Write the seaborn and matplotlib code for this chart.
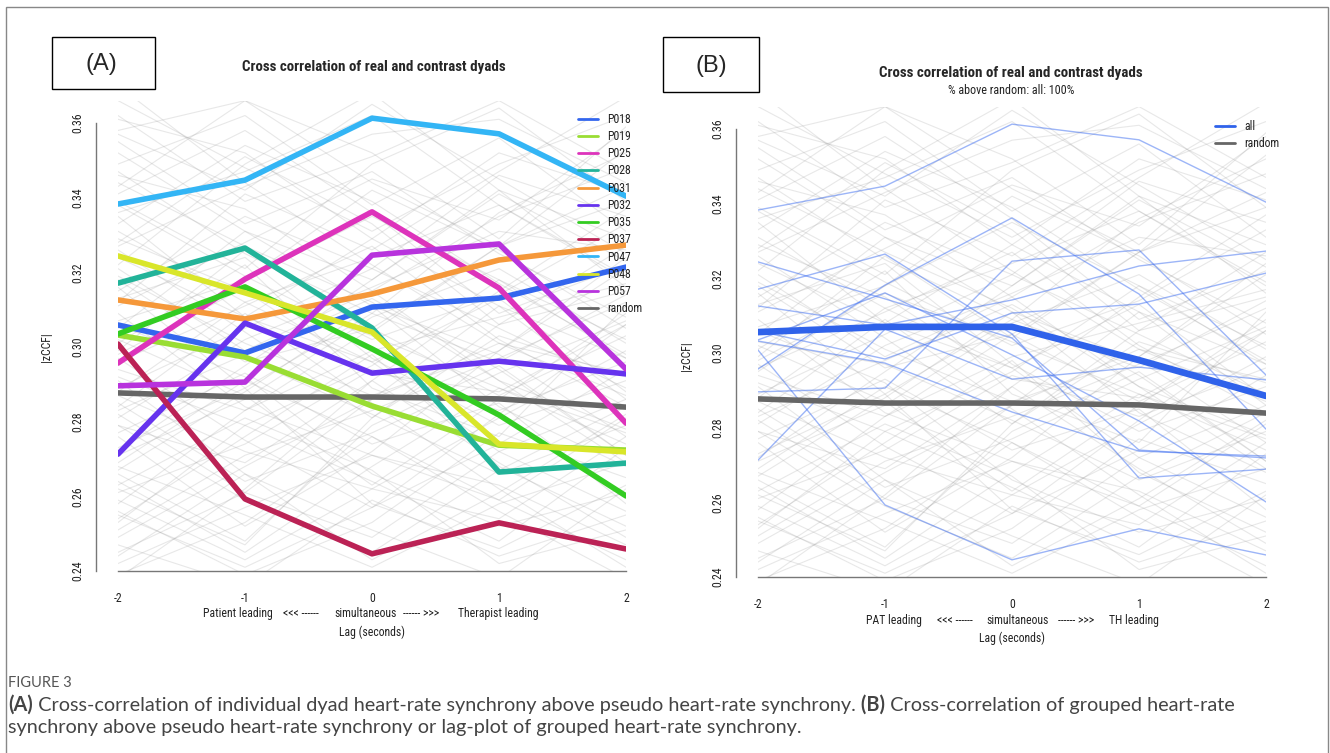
import matplotlib
matplotlib.use("Agg")
import numpy as np
import pandas as pd
import matplotlib.pyplot as plt
import seaborn as sns
from matplotlib import font_manager
from matplotlib.patches import Rectangle
from matplotlib.lines import Line2D

# ---- data ----
lags = [-2, -1, 0, 1, 2]
dyads = ['P018', 'P019', 'P025', 'P028', 'P031', 'P032',
         'P035', 'P037', 'P047', 'P048', 'P057']

p018 = [0.3059, 0.2984, 0.3107, 0.3131, 0.3214]
p019 = [0.3032, 0.2973, 0.2842, 0.2737, 0.2724]
p025 = [0.2957, 0.3182, 0.3362, 0.3158, 0.2796]
p028 = [0.3171, 0.3265, 0.3051, 0.2665, 0.2689]
p031 = [0.3126, 0.3075, 0.3142, 0.3233, 0.3273]
p032 = [0.2713, 0.3064, 0.2930, 0.2962, 0.2928]
p035 = [0.3035, 0.3161, 0.2995, 0.2818, 0.2601]
p037 = [0.3008, 0.2593, 0.2446, 0.2529, 0.2459]
p047 = [0.3383, 0.3447, 0.3613, 0.3571, 0.3404]
p048 = [0.3244, 0.3145, 0.3040, 0.2740, 0.2719]
p057 = [0.2896, 0.2906, 0.3246, 0.3276, 0.2941]

random_mean = [0.2877, 0.2866, 0.2866, 0.2861, 0.2839]
all_mean = [0.3056, 0.3070, 0.3070, 0.2981, 0.2885]

# pseudo (contrast) dyads drawn faintly in the background, rough estimates
pseudo_dyads = [
    [0.352, 0.331, 0.318, 0.342, 0.329], [0.301, 0.322, 0.289, 0.276, 0.311],
    [0.266, 0.248, 0.279, 0.295, 0.271], [0.341, 0.358, 0.336, 0.309, 0.322],
    [0.287, 0.272, 0.262, 0.281, 0.299], [0.318, 0.296, 0.305, 0.327, 0.339],
    [0.254, 0.276, 0.298, 0.268, 0.252], [0.362, 0.339, 0.351, 0.366, 0.347],
    [0.296, 0.311, 0.327, 0.302, 0.284], [0.273, 0.289, 0.258, 0.246, 0.263],
    [0.329, 0.315, 0.293, 0.288, 0.306], [0.245, 0.261, 0.249, 0.272, 0.286],
    [0.309, 0.284, 0.271, 0.259, 0.243], [0.336, 0.347, 0.362, 0.338, 0.318],
    [0.281, 0.302, 0.316, 0.331, 0.326], [0.259, 0.243, 0.262, 0.254, 0.276],
    [0.347, 0.325, 0.309, 0.296, 0.314], [0.292, 0.279, 0.295, 0.318, 0.297],
    [0.315, 0.335, 0.321, 0.305, 0.289], [0.268, 0.255, 0.241, 0.258, 0.269],
    [0.358, 0.366, 0.344, 0.327, 0.353], [0.303, 0.297, 0.282, 0.266, 0.279],
    [0.249, 0.268, 0.286, 0.301, 0.293], [0.324, 0.308, 0.329, 0.352, 0.341],
    [0.277, 0.293, 0.274, 0.285, 0.258], [0.338, 0.319, 0.302, 0.314, 0.333],
    [0.263, 0.281, 0.267, 0.242, 0.251], [0.311, 0.328, 0.345, 0.334, 0.358],
    [0.285, 0.264, 0.277, 0.293, 0.307], [0.242, 0.257, 0.271, 0.263, 0.247],
    [0.366, 0.348, 0.331, 0.349, 0.362], [0.298, 0.316, 0.303, 0.289, 0.274],
    [0.271, 0.286, 0.308, 0.321, 0.301], [0.333, 0.354, 0.339, 0.317, 0.298],
    [0.256, 0.239, 0.253, 0.277, 0.265], [0.319, 0.301, 0.287, 0.299, 0.324],
    [0.289, 0.305, 0.321, 0.346, 0.335], [0.344, 0.327, 0.312, 0.291, 0.278],
    [0.261, 0.274, 0.294, 0.283, 0.296], [0.306, 0.292, 0.266, 0.252, 0.261],
    [0.327, 0.343, 0.357, 0.361, 0.344], [0.279, 0.259, 0.245, 0.267, 0.284],
    [0.355, 0.333, 0.347, 0.325, 0.308], [0.294, 0.283, 0.299, 0.308, 0.317],
    [0.251, 0.271, 0.283, 0.297, 0.312], [0.313, 0.324, 0.297, 0.279, 0.291],
    [0.283, 0.298, 0.313, 0.294, 0.271], [0.247, 0.236, 0.259, 0.244, 0.255],
    [0.331, 0.312, 0.324, 0.338, 0.319], [0.269, 0.291, 0.276, 0.259, 0.281],
    [0.370, 0.344, 0.322, 0.301, 0.287], [0.238, 0.262, 0.291, 0.315, 0.337],
    [0.322, 0.349, 0.368, 0.342, 0.316], [0.291, 0.266, 0.251, 0.238, 0.262],
    [0.305, 0.331, 0.311, 0.284, 0.268], [0.276, 0.252, 0.272, 0.299, 0.321],
    [0.349, 0.362, 0.338, 0.356, 0.331], [0.258, 0.283, 0.305, 0.287, 0.303],
    [0.316, 0.289, 0.309, 0.336, 0.352], [0.284, 0.309, 0.285, 0.262, 0.241],
    [0.264, 0.245, 0.268, 0.289, 0.277], [0.339, 0.321, 0.349, 0.364, 0.339],
    [0.297, 0.275, 0.257, 0.274, 0.294], [0.253, 0.279, 0.264, 0.248, 0.273],
    [0.326, 0.304, 0.281, 0.306, 0.327], [0.361, 0.352, 0.329, 0.311, 0.297],
    [0.272, 0.295, 0.318, 0.341, 0.323], [0.307, 0.318, 0.342, 0.326, 0.305],
    [0.244, 0.266, 0.243, 0.261, 0.282], [0.288, 0.312, 0.296, 0.313, 0.288],
    [0.335, 0.308, 0.296, 0.272, 0.256], [0.262, 0.247, 0.281, 0.303, 0.292],
    [0.312, 0.341, 0.326, 0.347, 0.367], [0.279, 0.269, 0.291, 0.269, 0.249],
    [0.346, 0.337, 0.315, 0.335, 0.348], [0.295, 0.318, 0.335, 0.318, 0.302],
    [0.255, 0.241, 0.257, 0.282, 0.306], [0.321, 0.299, 0.315, 0.291, 0.269],
    [0.299, 0.326, 0.304, 0.327, 0.343], [0.267, 0.288, 0.311, 0.298, 0.276],
    [0.357, 0.342, 0.365, 0.345, 0.325], [0.239, 0.253, 0.276, 0.256, 0.238],
    [0.328, 0.351, 0.333, 0.306, 0.315], [0.282, 0.261, 0.286, 0.311, 0.286],
    [0.302, 0.287, 0.263, 0.286, 0.309], [0.343, 0.366, 0.352, 0.329, 0.359],
]

colors = ['#3366ee', '#99dd33', '#dd33bb', '#22b399', '#f5983a', '#6633ee',
          '#33cc22', '#bb2255', '#33b5f5', '#d9e62a', '#b833dd']

series = [p018, p019, p025, p028, p031, p032, p035, p037, p047, p048, p057]
df_real = pd.DataFrame({
    'lag': lags * len(dyads),
    'zccf': np.concatenate(series),
    'dyad': np.repeat(dyads, len(lags)),
})
df_pseudo = pd.DataFrame({
    'lag': lags * len(pseudo_dyads),
    'zccf': np.concatenate(pseudo_dyads),
    'pair': np.repeat(np.arange(len(pseudo_dyads)), len(lags)),
})

# ---- style ----
sns.set_style("white")


def pick_narrow():
    fl = font_manager.fontManager.ttflist
    names = {f.name for f in fl}
    for n in ['Liberation Sans Narrow', 'Roboto Condensed', 'Open Sans Condensed',
              'Noto Sans Condensed', 'DejaVu Sans Condensed']:
        if n in names:
            return n, 'normal'
    for n in ['Liberation Sans', 'Roboto', 'Noto Sans', 'Open Sans', 'DejaVu Sans']:
        if any(f.name == n and f.stretch == 'condensed' for f in fl):
            return n, 'condensed'
    return 'Liberation Sans', 'normal'


narrow, stretch = pick_narrow()
plt.rcParams['font.family'] = [narrow, 'DejaVu Sans']
plt.rcParams['font.stretch'] = stretch
cap_font = ['Lato', 'DejaVu Sans']

W, H = 1330, 753
fig = plt.figure(figsize=(W / 100, H / 100), dpi=100)
fig.patch.set_facecolor('white')
renderer = fig.canvas.get_renderer()


def fit_size(text, target_px, weight='normal', family=None):
    kw = {} if family is None else {'family': family, 'stretch': 'normal'}
    t = fig.text(0, 0, text, fontsize=10, fontweight=weight, **kw)
    w = t.get_window_extent(renderer).width
    t.remove()
    return 10 * target_px / w


fs = fit_size('Patient leading', 69)
fs_px = fs * 100 / 72
title_fs = fit_size('Cross correlation of real and contrast dyads', 264, weight='bold')
sub_fs = fit_size('% above random: all: 100%', 126)

ax_a = fig.add_axes([118 / W, 1 - 571 / H, 508 / W, 470.4 / H])
ax_b = fig.add_axes([758 / W, 1 - 577 / H, 508 / W, 470.4 / H])


def style_axis(ax, ylabel_y):
    ax.set_xlim(-2, 2)
    ax.set_ylim(0.24, 0.366)
    sns.despine(ax=ax)
    ax.spines['left'].set_position(('outward', 16))
    ax.spines['left'].set_bounds(0.24, 0.36)
    ax.spines['bottom'].set_bounds(-2, 2)
    for s in ('left', 'bottom'):
        ax.spines[s].set_color('#777777')
        ax.spines[s].set_linewidth(1.0)
    ax.set_xticks(lags)
    ax.set_xticklabels(['-2', '-1', '0', '1', '2'])
    ax.set_yticks([0.24, 0.26, 0.28, 0.30, 0.32, 0.34, 0.36])
    ax.set_yticklabels(['0.24', '0.26', '0.28', '0.30', '0.32', '0.34', '0.36'])
    ax.tick_params(axis='x', length=6, width=1, color='#777777', pad=9,
                   labelsize=fs, labelcolor='#222222')
    ax.tick_params(axis='y', length=4.5, width=1, color='#777777', pad=4,
                   labelsize=fs, labelcolor='#222222', labelrotation=90)
    for lab in ax.get_yticklabels():
        lab.set_va('center')
    ax.set_xlabel('')
    ax.set_ylabel('|zCCF|', fontsize=fs, color='#222222')
    ax.yaxis.set_label_coords(-0.128, ylabel_y)
    ax.set_facecolor('none')


def legend_kw():
    return dict(loc='upper left', frameon=False, fontsize=fs,
                handlelength=20 / fs_px, handletextpad=9 / fs_px,
                labelspacing=15.6 / fs_px - 0.97, borderpad=0, borderaxespad=0,
                labelcolor='#222222')


# ---- panel A ----
sns.lineplot(data=df_pseudo, x='lag', y='zccf', units='pair', estimator=None,
             color='#8c8c8c', alpha=0.2, lw=0.8, ax=ax_a, legend=False)
sns.lineplot(x=lags, y=random_mean, color='#666666', lw=4.0, ax=ax_a)
sns.lineplot(data=df_real, x='lag', y='zccf', hue='dyad', palette=colors,
             errorbar=None, lw=4.0, ax=ax_a, legend=False)
style_axis(ax_a, 0.476)

handles = [Line2D([], [], color=c, lw=2) for c in colors]
handles.append(Line2D([], [], color='#666666', lw=2))
ax_a.legend(handles, dyads + ['random'], bbox_to_anchor=(0.9055, 0.974), **legend_kw())

for xd, txt in [(-1.059, 'Patient leading'), (-0.563, '<<< ------'),
                (-0.051, 'simultaneous'), (0.39, '------ >>>'),
                (0.996, 'Therapist leading')]:
    ax_a.text(xd, -0.0914, txt, transform=ax_a.get_xaxis_transform(),
              ha='center', va='center', fontsize=fs, color='#222222')
ax_a.text(0, -0.1297, 'Lag (seconds)', transform=ax_a.get_xaxis_transform(),
          ha='center', va='center', fontsize=fs, color='#222222')

# ---- panel B ----
sns.lineplot(data=df_pseudo, x='lag', y='zccf', units='pair', estimator=None,
             color='#8c8c8c', alpha=0.2, lw=0.8, ax=ax_b, legend=False)
sns.lineplot(data=df_real, x='lag', y='zccf', units='dyad', estimator=None,
             color='#3b6cf0', alpha=0.5, lw=1.0, ax=ax_b, legend=False)
sns.lineplot(x=lags, y=random_mean, color='#666666', lw=4.0, ax=ax_b)
sns.lineplot(x=lags, y=all_mean, color='#2f62ea', lw=4.8, ax=ax_b)
style_axis(ax_b, 0.47)

ax_b.legend([Line2D([], [], color='#2f62ea', lw=2), Line2D([], [], color='#666666', lw=2)],
            ['all', 'random'], bbox_to_anchor=(0.90, 0.9716), **legend_kw())

for xd, txt in [(-0.933, 'PAT leading'), (-0.449, '<<< ------'), (0.043, 'simultaneous'),
                (0.504, '------ >>>'), (0.961, 'TH leading')]:
    ax_b.text(xd, -0.0935, txt, transform=ax_b.get_xaxis_transform(),
              ha='center', va='center', fontsize=fs, color='#222222')
ax_b.text(0, -0.1297, 'Lag (seconds)', transform=ax_b.get_xaxis_transform(),
          ha='center', va='center', fontsize=fs, color='#222222')

# ---- titles and panel boxes ----
fig.text(374 / W, 1 - 67 / H, 'Cross correlation of real and contrast dyads',
         ha='center', va='center', fontsize=title_fs, fontweight='bold')
fig.text(1011 / W, 1 - 73 / H, 'Cross correlation of real and contrast dyads',
         ha='center', va='center', fontsize=title_fs, fontweight='bold')
fig.text(1011 / W, 1 - 90 / H, '% above random: all: 100%',
         ha='center', va='center', fontsize=sub_fs, color='#222222')

fig.patches.append(Rectangle((52 / W, 1 - 89 / H), 103 / W, 52 / H, fill=False,
                             ec='black', lw=1.0, transform=fig.transFigure))
fig.patches.append(Rectangle((663 / W, 1 - 92 / H), 96 / W, 55 / H, fill=False,
                             ec='black', lw=1.0, transform=fig.transFigure))
fig.text(101 / W, 1 - 64 / H, '(A)', ha='center', va='center', fontsize=17,
         family=['Liberation Sans', 'DejaVu Sans'], stretch='normal')
fig.text(711 / W, 1 - 66 / H, '(B)', ha='center', va='center', fontsize=17,
         family=['Liberation Sans', 'DejaVu Sans'], stretch='normal')

# outer frame
fig.patches.append(Rectangle((6 / W, 1 - 760 / H), 1322 / W, 753 / H, fill=False,
                             ec='#888888', lw=1.0, transform=fig.transFigure,
                             clip_on=False))

# ---- caption ----
line1 = [('(A)', 'bold'),
         (' Cross-correlation of individual dyad heart-rate synchrony above pseudo heart-rate synchrony.', 'normal'),
         (' (B)', 'bold'),
         (' Cross-correlation of grouped heart-rate', 'normal')]
line2 = [('synchrony above pseudo heart-rate synchrony or lag-plot of grouped heart-rate synchrony.', 'normal')]


def caption_line(y_px, runs, size, color='#444444'):
    x = 8
    for txt, weight in runs:
        t = fig.text(x / W, 1 - y_px / H, txt, ha='left', va='center', fontsize=size,
                     fontweight=weight, color=color, family=cap_font, stretch='normal')
        x += t.get_window_extent(renderer).width
    return x


probe = caption_line(-100, line1, 10)
for t in fig.texts[-len(line1):]:
    t.remove()
cap_fs = 10 * 1228 / (probe - 8)
caption_line(705, line1, cap_fs)
caption_line(727, line2, cap_fs)

fig3_fs = fit_size('FIGURE 3', 63, family=cap_font)
fig.text(8 / W, 1 - 683 / H, 'FIGURE 3', ha='left', va='center', fontsize=fig3_fs,
         color='#555555', family=cap_font, stretch='normal')

plt.savefig('out.png', dpi=100)
